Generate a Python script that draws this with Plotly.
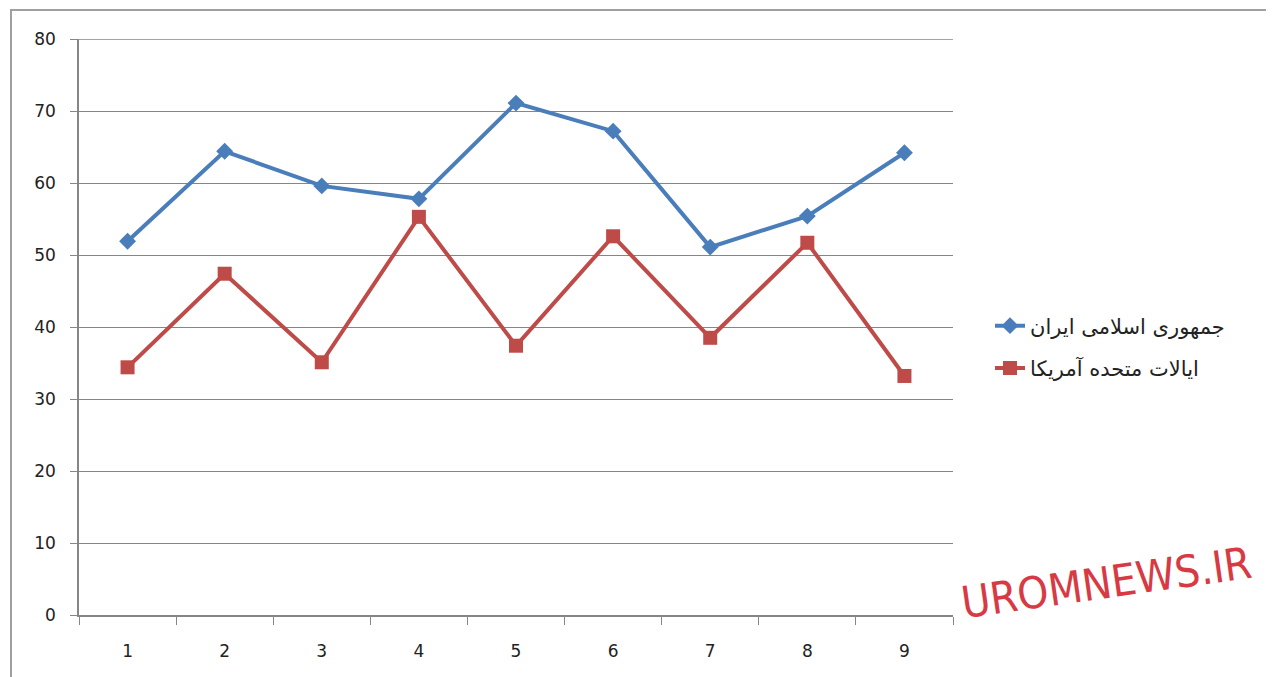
import plotly.graph_objects as go

categories = ["1", "2", "3", "4", "5", "6", "7", "8", "9"]
iran_values = [51.9, 64.4, 59.6, 57.8, 71.1, 67.2, 51.1, 55.4, 64.2]
usa_values = [34.4, 47.4, 35.1, 55.3, 37.4, 52.6, 38.5, 51.7, 33.2]
series_names = ["جمهوری اسلامی ایران", "ایالات متحده آمریکا"]
y_ticks = [0, 10, 20, 30, 40, 50, 60, 70, 80]

OFF = 8  # page body margin
W, H = 1274 - OFF, 677 - OFF
PL, PR, PT, PB = 79, 953, 39, 615  # plot area in screen px
L, T = PL - OFF, PT - OFF
R, B = W - (PR - OFF), H - (PB - OFF)
pw, ph = PR - PL, PB - PT

fig = go.Figure()
fig.add_trace(go.Scatter(
    x=categories, y=iran_values, name=series_names[0], mode="lines+markers",
    line=dict(color="#4a7ebb", width=4),
    marker=dict(symbol="diamond", size=13, color="#4a7ebb"),
    legendgroup="a",
))
fig.add_trace(go.Scatter(
    x=categories, y=usa_values, name=series_names[1], mode="lines+markers",
    line=dict(color="#be4b48", width=4),
    marker=dict(symbol="square", size=14, color="#be4b48"),
    legendgroup="b",
))

def px_x(px):
    return (px - PL) / pw

def px_y(py):
    return (PB - py) / ph

fig.update_layout(
    width=W, height=H,
    margin=dict(l=L, r=R, t=T, b=B, pad=0),
    paper_bgcolor="white", plot_bgcolor="white",
    font=dict(family="DejaVu Sans", size=17, color="#222222"),
    showlegend=True,
    legend=dict(
        x=px_x(990), y=px_y(347), xanchor="left", yanchor="middle",
        font=dict(family="DejaVu Sans", size=21, color="#222222"),
        traceorder="grouped", tracegroupgap=12,
        bgcolor="rgba(0,0,0,0)",
    ),
    xaxis=dict(
        type="category", range=[-0.5, 8.5],
        showgrid=False, showline=True, linecolor="#868686", linewidth=1.5,
        ticks="outside", tickson="boundaries", ticklen=8, tickcolor="#868686",
        ticklabelstandoff=20, zeroline=False,
    ),
    yaxis=dict(
        range=[0, 80], tickvals=y_ticks,
        showgrid=True, gridcolor="#868686", gridwidth=1.2,
        showline=True, linecolor="#868686", linewidth=1.5,
        ticks="outside", ticklen=7, tickcolor="#868686",
        ticklabelstandoff=11, zeroline=False,
    ),
    shapes=[
        dict(
            type="rect", xref="paper", yref="paper",
            x0=px_x(11), x1=px_x(1300), y0=px_y(700), y1=px_y(10),
            line=dict(color="#a0a0a0", width=2), fillcolor="rgba(0,0,0,0)",
            layer="below",
        ),
        dict(
            type="line", xref="paper", yref="y",
            x0=0, x1=1, y0=y_ticks[-1], y1=y_ticks[-1],
            line=dict(color="#868686", width=1.5), layer="below",
        ),
    ],
    annotations=[dict(
        text="UROMNEWS.IR", xref="paper", yref="paper",
        x=px_x(1106), y=px_y(582), xanchor="center", yanchor="middle",
        showarrow=False, textangle=-8,
        font=dict(family="DejaVu Sans Condensed, DejaVu Sans", size=44, color="#d83a44"),
    )],
)

fig.write_html("out.html")
